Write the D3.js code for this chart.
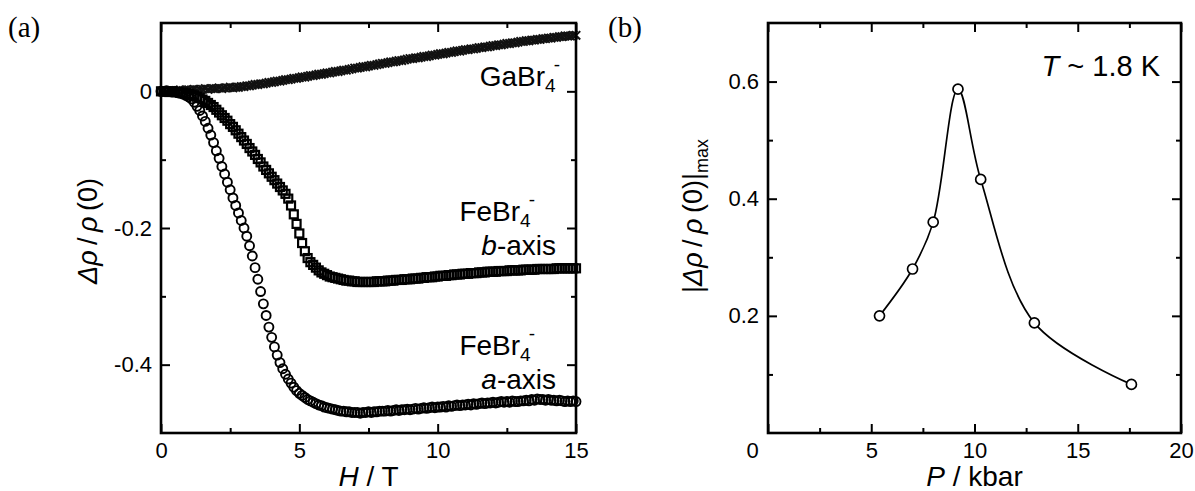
<!DOCTYPE html>
<html>
<head>
<meta charset="utf-8">
<script src="https://cdn.jsdelivr.net/npm/d3@7"></script>
<style>
  body { margin: 0; background: #fff; }
  svg { display: block; font-family: "Liberation Sans", Arial, sans-serif; }
</style>
</head>
<body>
<script>
// ---- data, panel (a): magnetoresistance vs field, 0.1 T sweep grid
const fieldT = d3.range(0, 151).map(i => i / 10);

const gaBr4 = [0.000,0.001,0.000,0.001,0.001,0.000,0.001,0.002,0.001,0.002,0.002,
  0.002,0.003,0.002,0.003,0.003,0.004,0.003,0.004,0.004,0.004,
  0.005,0.004,0.005,0.005,0.006,0.005,0.006,0.006,0.007,0.007,
  0.008,0.008,0.009,0.010,0.010,0.011,0.011,0.012,0.013,0.013,
  0.014,0.015,0.015,0.016,0.017,0.017,0.018,0.019,0.019,0.020,
  0.021,0.021,0.022,0.023,0.023,0.024,0.025,0.025,0.026,0.027,
  0.027,0.028,0.029,0.029,0.030,0.031,0.031,0.032,0.033,0.034,
  0.034,0.035,0.036,0.036,0.037,0.038,0.038,0.039,0.040,0.041,
  0.041,0.042,0.043,0.043,0.044,0.045,0.045,0.046,0.047,0.048,
  0.048,0.049,0.049,0.050,0.051,0.051,0.052,0.053,0.053,0.054,
  0.055,0.055,0.056,0.057,0.057,0.058,0.059,0.059,0.060,0.061,
  0.061,0.062,0.062,0.063,0.064,0.064,0.065,0.065,0.066,0.067,
  0.067,0.068,0.068,0.069,0.070,0.070,0.071,0.071,0.072,0.073,
  0.073,0.074,0.074,0.075,0.075,0.076,0.076,0.077,0.077,0.078,
  0.078,0.079,0.079,0.080,0.080,0.081,0.081,0.081,0.082,0.082];

const feBr4B = [0.000,0.000,0.000,-0.001,0.000,-0.001,-0.001,-0.002,-0.002,-0.003,-0.004,
  -0.005,-0.006,-0.008,-0.010,-0.012,-0.014,-0.017,-0.020,-0.023,-0.027,
  -0.031,-0.035,-0.039,-0.043,-0.048,-0.052,-0.057,-0.062,-0.067,-0.072,
  -0.077,-0.083,-0.088,-0.093,-0.099,-0.104,-0.110,-0.115,-0.120,-0.125,
  -0.130,-0.135,-0.140,-0.145,-0.150,-0.157,-0.167,-0.180,-0.194,-0.208,
  -0.222,-0.234,-0.244,-0.250,-0.254,-0.258,-0.262,-0.265,-0.267,-0.269,
  -0.271,-0.272,-0.273,-0.274,-0.275,-0.276,-0.277,-0.277,-0.278,-0.278,
  -0.279,-0.279,-0.279,-0.279,-0.279,-0.279,-0.279,-0.278,-0.278,-0.278,
  -0.278,-0.277,-0.277,-0.277,-0.276,-0.276,-0.276,-0.275,-0.275,-0.275,
  -0.274,-0.274,-0.274,-0.273,-0.273,-0.272,-0.272,-0.272,-0.271,-0.271,
  -0.270,-0.270,-0.270,-0.269,-0.269,-0.268,-0.268,-0.268,-0.267,-0.267,
  -0.267,-0.266,-0.266,-0.266,-0.265,-0.265,-0.265,-0.264,-0.264,-0.264,
  -0.264,-0.263,-0.263,-0.263,-0.263,-0.262,-0.262,-0.262,-0.262,-0.262,
  -0.261,-0.261,-0.261,-0.261,-0.261,-0.260,-0.260,-0.260,-0.260,-0.260,
  -0.260,-0.260,-0.259,-0.259,-0.259,-0.259,-0.259,-0.259,-0.259,-0.259];

const feBr4A = [0.000,0.000,0.001,0.000,-0.001,-0.001,-0.002,-0.003,-0.004,-0.006,-0.008,
  -0.011,-0.016,-0.022,-0.028,-0.036,-0.044,-0.054,-0.064,-0.075,-0.087,
  -0.098,-0.110,-0.121,-0.133,-0.144,-0.156,-0.167,-0.178,-0.189,-0.200,
  -0.212,-0.226,-0.241,-0.258,-0.275,-0.293,-0.311,-0.328,-0.345,-0.360,
  -0.374,-0.386,-0.397,-0.406,-0.414,-0.421,-0.427,-0.433,-0.438,-0.442,
  -0.445,-0.448,-0.451,-0.453,-0.455,-0.457,-0.459,-0.460,-0.462,-0.463,
  -0.464,-0.465,-0.466,-0.467,-0.468,-0.468,-0.469,-0.469,-0.470,-0.470,
  -0.470,-0.471,-0.470,-0.470,-0.469,-0.470,-0.469,-0.469,-0.468,-0.468,
  -0.468,-0.467,-0.468,-0.467,-0.466,-0.467,-0.466,-0.466,-0.465,-0.466,
  -0.465,-0.464,-0.465,-0.464,-0.463,-0.464,-0.463,-0.462,-0.463,-0.462,
  -0.462,-0.461,-0.462,-0.460,-0.461,-0.460,-0.459,-0.460,-0.459,-0.459,
  -0.458,-0.459,-0.457,-0.458,-0.457,-0.456,-0.457,-0.456,-0.456,-0.455,
  -0.456,-0.455,-0.454,-0.455,-0.454,-0.455,-0.453,-0.454,-0.454,-0.453,
  -0.453,-0.452,-0.453,-0.451,-0.452,-0.450,-0.451,-0.451,-0.452,-0.451,
  -0.452,-0.452,-0.453,-0.452,-0.453,-0.454,-0.453,-0.454,-0.453,-0.454];

// ---- data, panel (b): max magnetoresistance vs pressure
const pressure = [5.4, 7.0, 8.0, 9.2, 10.3, 12.9, 17.6];
const mrMax = [0.200, 0.280, 0.360, 0.587, 0.433, 0.188, 0.083];

// ticks
const aXMajor = [0, 5, 10, 15], aXMinor = [2.5, 7.5, 12.5];
const aYMajor = [0, -0.2, -0.4], aYMinor = [-0.1, -0.3];
const bXMajor = [0, 5, 10, 15, 20], bXMinor = [2.5, 7.5, 12.5, 17.5];
const bYMajor = [0.2, 0.4, 0.6], bYMinor = [0.1, 0.3, 0.5];

const W = 1195, H = 491;
const plotTop = 23, plotBottom = 433;

const svg = d3.select("body").append("svg")
  .attr("width", W).attr("height", H);

// frame + inward ticks on all four sides
function frame(x, y, xMaj, xMin, yMaj, yMin, fmtY) {
  const g = svg.append("g");
  const [x0, x1] = x.range(), [y0, y1] = y.range();
  const big = 9, small = 5;
  const add = (axis, tx, ty) => {
    const a = g.append("g").attr("transform", `translate(${tx},${ty})`).call(axis);
    a.select(".domain").remove();
    a.selectAll("line").attr("stroke", "#000").attr("stroke-width", 2);
    a.selectAll("text").attr("fill", "#000").attr("font-size", 22)
      .attr("font-family", "Liberation Sans, Arial, sans-serif");
    return a;
  };
  add(d3.axisBottom(x).tickValues(xMaj).tickSize(-big).tickPadding(9).tickFormat(d3.format("d")), 0, y0);
  add(d3.axisBottom(x).tickValues(xMin).tickSize(-small).tickFormat(""), 0, y0);
  add(d3.axisTop(x).tickValues(xMaj).tickSize(-big).tickFormat(""), 0, y1);
  add(d3.axisTop(x).tickValues(xMin).tickSize(-small).tickFormat(""), 0, y1);
  add(d3.axisLeft(y).tickValues(yMaj).tickSize(-big).tickPadding(9).tickFormat(fmtY), x0, 0);
  add(d3.axisLeft(y).tickValues(yMin).tickSize(-small).tickFormat(""), x0, 0);
  add(d3.axisRight(y).tickValues(yMaj).tickSize(-big).tickFormat(""), x1, 0);
  add(d3.axisRight(y).tickValues(yMin).tickSize(-small).tickFormat(""), x1, 0);
  g.append("rect").attr("x", x0).attr("y", y1)
    .attr("width", x1 - x0).attr("height", y0 - y1)
    .attr("fill", "none").attr("stroke", "#000").attr("stroke-width", 2.6);
  return g;
}

const fmtA = d => d === 0 ? "0" : d3.format(".1f")(d).replace("\u2212", "-");
const fmtB = d => d3.format(".1f")(d);

// ================= panel (a) =================
const xa = d3.scaleLinear().domain([0, 15]).range([161, 576]);
const ya = d3.scaleLinear().domain([-0.5, 0.1]).range([plotBottom, plotTop]);

const gA = svg.append("g");

// GaBr4 : crosses
gA.append("g").selectAll("path")
  .data(fieldT.map((h, i) => [h, gaBr4[i]]))
  .join("path")
  .attr("d", d => {
    const cx = xa(d[0]), cy = ya(d[1]), s = 4.2;
    return `M${cx - s},${cy - s}L${cx + s},${cy + s}M${cx - s},${cy + s}L${cx + s},${cy - s}`;
  })
  .attr("stroke", "#111").attr("stroke-width", 2).attr("fill", "none");

// FeBr4 b-axis : open squares
gA.append("g").selectAll("rect")
  .data(fieldT.map((h, i) => [h, feBr4B[i]]))
  .join("rect")
  .attr("x", d => xa(d[0]) - 4).attr("y", d => ya(d[1]) - 4)
  .attr("width", 8).attr("height", 8)
  .attr("fill", "none").attr("stroke", "#000").attr("stroke-width", 2.2);

// FeBr4 a-axis : open circles
gA.append("g").selectAll("circle")
  .data(fieldT.map((h, i) => [h, feBr4A[i]]))
  .join("circle")
  .attr("cx", d => xa(d[0])).attr("cy", d => ya(d[1])).attr("r", 4.5)
  .attr("fill", "none").attr("stroke", "#000").attr("stroke-width", 1.9);

frame(xa, ya, aXMajor, aXMinor, aYMajor, aYMinor, fmtA);

// labels panel (a)
function ion(x, y, base) {
  const t = svg.append("text").attr("x", x).attr("y", y)
    .attr("text-anchor", "end").attr("font-size", 28);
  t.append("tspan").text(base);
  t.append("tspan").attr("font-size", 19).attr("dy", 6).text("4");
  t.append("tspan").attr("font-size", 19).attr("dy", -21).attr("dx", -2).text("-");
  return t;
}
ion(560, 86, "GaBr");
ion(535, 221, "FeBr");
ion(535, 355, "FeBr");

const axisLab = (x, y, letter) => {
  const t = svg.append("text").attr("x", x).attr("y", y)
    .attr("text-anchor", "end").attr("font-size", 28);
  t.append("tspan").attr("font-style", "italic").text(letter);
  t.append("tspan").text("-axis");
};
axisLab(556, 255, "b");
axisLab(556, 389, "a");

// axis titles panel (a)
const hT = svg.append("text").attr("x", (xa(0) + xa(15)) / 2).attr("y", 486)
  .attr("text-anchor", "middle").attr("font-size", 28);
hT.append("tspan").attr("font-style", "italic").text("H");
hT.append("tspan").text(" / T");

const yT = svg.append("text")
  .attr("transform", `translate(97,${(plotTop + plotBottom) / 2 + 3}) rotate(-90)`)
  .attr("text-anchor", "middle").attr("font-size", 27);
yT.append("tspan").attr("font-style", "italic").text("\u0394\u03c1");
yT.append("tspan").text("\u2009/\u2009");
yT.append("tspan").attr("font-style", "italic").text("\u03c1");
yT.append("tspan").text("\u2009(0)");

svg.append("text").attr("x", 8).attr("y", 37)
  .attr("font-family", "Liberation Serif, Times New Roman, serif")
  .attr("font-size", 29).text("(a)");

// ================= panel (b) =================
const xb = d3.scaleLinear().domain([0, 20]).range([768, 1181]);
const yb = d3.scaleLinear().domain([0, 0.7]).range([plotBottom, plotTop]);

const ptsB = pressure.map((p, i) => [p, mrMax[i]]);

svg.append("path")
  .datum(ptsB)
  .attr("d", d3.line().x(d => xb(d[0])).y(d => yb(d[1]))
    .curve(d3.curveCatmullRom.alpha(0.5)))
  .attr("fill", "none").attr("stroke", "#000").attr("stroke-width", 1.7);

svg.append("g").selectAll("circle")
  .data(ptsB)
  .join("circle")
  .attr("cx", d => xb(d[0])).attr("cy", d => yb(d[1])).attr("r", 5)
  .attr("fill", "#fff").attr("stroke", "#000").attr("stroke-width", 1.7);

const fb = frame(xb, yb, bXMajor, bXMinor, bYMajor, bYMinor, fmtB);
// the "0" of the pressure axis sits left of the corner
fb.selectAll("text").filter(d => d === 0).attr("dx", -16);

const pT = svg.append("text").attr("x", (xb(0) + xb(20)) / 2).attr("y", 486)
  .attr("text-anchor", "middle").attr("font-size", 28);
pT.append("tspan").attr("font-style", "italic").text("P");
pT.append("tspan").text(" / kbar");

const yTb = svg.append("text")
  .attr("transform", `translate(702,${(plotTop + plotBottom) / 2 - 12}) rotate(-90)`)
  .attr("text-anchor", "middle").attr("font-size", 27);
yTb.append("tspan").text("|");
yTb.append("tspan").attr("font-style", "italic").text("\u0394\u03c1");
yTb.append("tspan").text("\u2009/\u2009");
yTb.append("tspan").attr("font-style", "italic").text("\u03c1");
yTb.append("tspan").text("\u2009(0)|");
yTb.append("tspan").attr("font-size", 18).attr("dy", 6).text("max");

const tT = svg.append("text").attr("x", 1160).attr("y", 76)
  .attr("text-anchor", "end").attr("font-size", 29);
tT.append("tspan").attr("font-style", "italic").text("T");
tT.append("tspan").text(" ~ 1.8 K");

svg.append("text").attr("x", 608).attr("y", 37)
  .attr("font-family", "Liberation Serif, Times New Roman, serif")
  .attr("font-size", 29).text("(b)");
</script>
</body>
</html>
